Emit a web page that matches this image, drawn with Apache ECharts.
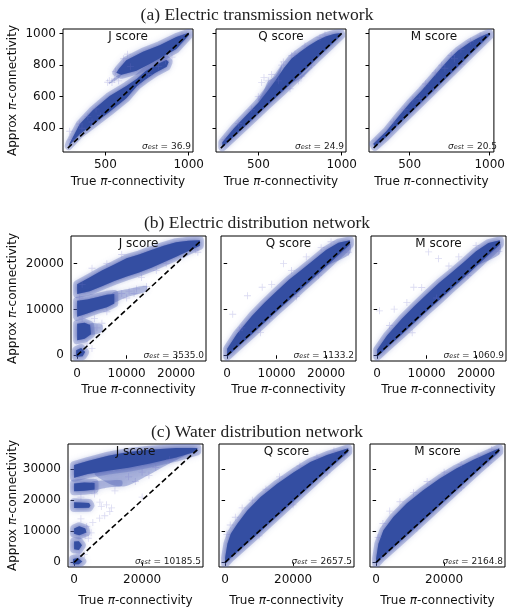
<!DOCTYPE html>
<html>
<head>
<meta charset="utf-8">
<script src="https://cdn.jsdelivr.net/npm/echarts@6/dist/echarts.min.js"></script>
<style>
html,body{margin:0;padding:0;background:#fff}
#main{width:508px;height:608px}
</style>
</head>
<body>
<div id="main"></div>
<script>
// titles / labels
var rowTitles = ['(a) Electric transmission network', '(b) Electric distribution network', '(c) Water distribution network'];
var scoreNames = ['J score', 'Q score', 'M score'];
var sigmaA = ['36.9', '24.9', '20.5'];
var sigmaB = ['3535.0', '1133.2', '1060.9'];
var sigmaC = ['10185.5', '2657.5', '2164.8'];

// tick values
var aTicksX = [500, 1000];
var aTicksY = [400, 600, 800, 1000];
var bTicksX = [0, 10000, 20000];
var bTicksY = [0, 10000, 20000];
var cTicksX = [0, 20000];
var cTicksY = [0, 10000, 20000, 30000];

// y = x reference (start, end)
var aDiag = [275, 1000];
var bDiag = [0, 24800];
var cDiag = [0, 36200];

// dense point clouds: outlines in data units [true, approx]
var aJCore = [
  [[286,306],[346,425],[426,515],[526,605],[626,668],[690,714],[740,760],[800,798],[866,834],[880,820],[868,790],[800,752],[740,708],[690,668],[626,590],[526,505],[426,425],[346,362],[280,288]],
  [[566,752],[582,776],[626,830],[726,884],[826,926],[926,977],[1000,1004],[1002,990],[926,902],[846,854],[766,806],[686,764],[596,738]]
];
var aQCore = [
  [[284,312],[354,400],[434,488],[500,562],[554,632],[600,698],[654,782],[700,842],[754,886],[800,920],[854,956],[904,981],[954,997],[994,1003],[998,990],[954,945],[904,895],[854,845],[800,790],[754,742],[700,688],[654,642],[600,590],[554,545],[500,492],[434,426],[354,348],[284,280]]
];
var aMCore = [
  [[273,302],[353,380],[434,480],[500,558],[574,638],[635,708],[700,784],[755,846],[801,890],[875,943],[936,976],[996,1003],[1002,990],[936,925],[875,865],[801,790],[735,725],[700,690],[635,625],[574,565],[500,492],[434,428],[353,345],[283,283]]
];
var bJCore = [
  [[0,15500],[2500,17000],[5000,18500],[7500,19800],[10000,21200],[12500,22000],[15000,23000],[17500,23900],[20000,24700],[22500,25000],[24800,25100],[24800,23900],[22500,22800],[20000,21500],[17500,20300],[15000,19100],[12500,18100],[10000,17200],[7500,16200],[5000,15100],[2500,14000],[0,13400]],
  [[0,11900],[2000,12200],[4000,12700],[6000,13200],[7500,13400],[7500,11300],[6000,10500],[4000,9900],[2000,9100],[0,8400]],
  [[0,6900],[1500,7100],[2600,6600],[2800,4600],[1500,3600],[0,3300]],
  [[-200,-300],[-200,1100],[800,1600],[1600,700],[1100,-200]]
];
var bQCore = [
  [[0,1400],[2000,4700],[5000,8600],[7500,11400],[10000,14000],[12500,16500],[15000,18600],[17500,20800],[20000,23000],[22500,24600],[24800,25100],[24800,24200],[22500,21900],[20000,19400],[17500,16900],[15000,14500],[12500,12000],[10000,9600],[7500,7100],[5000,4600],[2000,1700],[0,-300]]
];
var bMCore = [
  [[0,1200],[2000,4300],[5000,8000],[7500,10700],[10000,13300],[12500,15800],[15000,18000],[17500,20300],[20000,22700],[22500,24500],[24800,25100],[24800,24200],[22500,21900],[20000,19400],[17500,16900],[15000,14500],[12500,12000],[10000,9600],[7500,7100],[5000,4600],[2000,1700],[0,-300]]
];
var cJCore = [
  [[0,31300],[4000,32600],[10000,34300],[16000,35500],[22000,36200],[30000,36800],[36200,36800],[36200,35700],[30000,33700],[22000,31700],[16000,30400],[10000,29500],[4000,28400],[0,27200]],
  [[0,25400],[3000,25700],[6000,25500],[6000,23400],[3000,23000],[0,22900]],
  [[0,19300],[4400,19100],[4800,18300],[4400,17600],[0,17500]],
  [[0,9200],[0,10900],[1500,11600],[3300,10900],[3600,9600],[1500,8700]],
  [[0,4200],[0,6700],[1400,6800],[2300,5500],[1400,4000]],
  [[-300,-600],[-300,1100],[1100,1400],[2400,300],[1400,-600]]
];
var cQCore = [
  [[0,1500],[680,6000],[1660,9200],[3600,12400],[6540,16700],[10440,21000],[15320,25300],[20200,29000],[25080,32300],[29960,34500],[34840,36200],[36200,36700],[36200,35500],[30000,29600],[20000,19600],[10000,9600],[5000,4700],[1500,1300],[0,-500]]
];
var cMCore = [
  [[0,1200],[680,6000],[2150,10300],[5070,14600],[8970,18900],[13850,23200],[18730,27000],[23600,30200],[28480,32900],[33360,35300],[36200,36700],[36200,35500],[30000,29600],[20000,19600],[10000,9600],[5000,4700],[1500,1300],[0,-500]]
];

// thinner (lighter) parts of the clouds
var aJLight = [
  [[520,680],[560,724],[600,748],[590,726],[550,696]],
  [[300,330],[340,380],[330,350]]
];
var aQLight = [
  [[500,570],[534,640],[560,700],[600,728],[640,796],[620,712],[560,620]],
  [[680,680],[760,735],[820,790],[760,720]]
];
var aMLight = [];
var bJLight = [
  [[7000,13500],[10000,14400],[14000,15200],[14000,14000],[10000,12700],[7000,11500]],
  [[2500,6900],[5000,6700],[5000,5100],[2500,4600]]
];
var bQLight = [
  [[20000,19700],[24800,24300],[24800,22200],[22000,20500]]
];
var bMLight = [
  [[20000,19700],[24800,24300],[24800,22200],[22000,20500]]
];
var cJLight = [
  [[6000,28600],[12000,29600],[20000,31200],[28000,33300],[33000,34800],[26000,30600],[20000,27000],[15000,24500],[11000,25000]],
  [[5000,25800],[10000,26300],[14000,26300],[14000,24600],[10000,24100],[5000,23300]]
];
var cQLight = [];
var cMLight = [];

// sparse outlying points [true, approx]
var aJFaint = [[286,381],[345,427],[300,330],[395,474],[444,522],[470,480],[514,691],[524,701],[554,712],[540,690],[580,700],[633,869],[610,840],[861,827],[900,850],[700,680],[760,740],[420,440],[360,400],[650,790],[820,790],[560,760],[960,985],[990,990]];
var aQFaint = [[300,330],[380,430],[460,520],[534,722],[520,690],[560,700],[580,740],[640,800],[720,870],[780,920],[870,975],[900,990],[690,650],[740,700],[760,730],[820,800],[620,700],[500,600],[700,860],[650,820]];
var aMFaint = [[290,320],[400,440],[470,520],[520,580],[600,680],[660,750],[700,800],[760,860],[820,900],[880,950],[940,985],[720,780],[780,840],[650,640],[820,805],[560,590]];
var bJFaint = [[9000,13500],[10500,14000],[12000,14500],[14000,15000],[10000,12500],[11500,13500],[4000,6000],[5000,7000],[3500,8000],[1000,15500],[3000,19000],[6000,20000],[9000,22000],[24400,22500],[24000,23000],[13000,17000],[16000,18500],[18000,20000],[2000,2500],[3000,1500],[6000,9500],[1000,8000],[500,12500]];
var bQFaint = [[1120,8970],[4100,13000],[7080,14850],[11400,20000],[6750,4930],[3000,6000],[9000,15500],[13000,18500],[16000,21500],[19000,23500],[21000,24800],[24500,22500],[18500,17500],[14000,12800],[8500,8000],[2500,5500]];
var bMFaint = [[460,9700],[3440,10070],[7400,14850],[12400,21100],[18340,17420],[10400,22570],[7080,4920],[2500,6500],[6000,11500],[9000,14800],[14500,19500],[16500,21500],[20000,24000],[24600,22700],[12000,12500]];
var cJFaint = [[7570,19350],[8000,18000],[9500,18500],[11000,17500],[5000,9500],[4175,7740],[3690,11500],[5500,12800],[7500,14200],[9000,15000],[10490,16340],[2000,14000],[3000,2500],[1500,3000],[16000,27500],[20000,29000],[24000,30500],[18000,26000],[22000,28000],[12000,23000],[20000,21000],[28000,33000],[2000,21000],[6000,22000],[3200,8800]];
var cQFaint = [[500,9000],[1500,12000],[3000,14500],[5000,17500],[8000,20000],[12000,23500],[16000,27500],[22000,31000],[27000,33800],[32000,35800],[10000,8500],[20000,18500],[30000,28800],[35000,34500]];
var cMFaint = [[600,8000],[2000,12500],[4000,16500],[7000,19500],[11000,22500],[15000,26000],[20000,29000],[25000,31500],[30000,34200],[34000,36300],[12000,11000],[25000,24000],[33000,32000]];

var CORE = '#344ea2';
var HALO = 'rgba(88,104,186,0.33)';
var LIGHT = 'rgba(80,98,182,0.38)';
var FAINT = 'rgba(115,115,205,0.32)';
var PLUS = 'path://M4.4,0h1.2v10h-1.2zM0,4.4h10v1.2h-10z';

var rows = [
  { title: rowTitles[0], titleY: 15, top: 29, height: 123, lefts: [63, 216, 369], width: 130,
    xr: [246, 1026], yr: [250, 1028], xt: aTicksX, yt: aTicksY, diag: aDiag,
    core: [aJCore, aQCore, aMCore], light: [aJLight, aQLight, aMLight], faint: [aJFaint, aQFaint, aMFaint],
    sig: sigmaA, xGap: 24, yGap: 44 },
  { title: rowTitles[1], titleY: 223, top: 236, height: 125, lefts: [71, 221, 371], width: 135,
    xr: [-1250, 26050], yr: [-1250, 26050], xt: bTicksX, yt: bTicksY, diag: bDiag,
    core: [bJCore, bQCore, bMCore], light: [bJLight, bQLight, bMLight], faint: [bJFaint, bQFaint, bMFaint],
    sig: sigmaB, xGap: 23, yGap: 52 },
  { title: rowTitles[2], titleY: 432, top: 444, height: 123, lefts: [68, 219, 370], width: 135,
    xr: [-1800, 37900], yr: [-1500, 38070], xt: cTicksX, yt: cTicksY, diag: cDiag,
    core: [cJCore, cQCore, cMCore], light: [cJLight, cQLight, cMLight], faint: [cJFaint, cQFaint, cMFaint],
    sig: sigmaC, xGap: 28, yGap: 49 }
];

function cloudRender(polys, dense) {
  return function (params, api) {
    var pts = polys[params.dataIndex].map(function (p) { return api.coord(p); });
    if (!dense) {
      return { type: 'polygon', shape: { points: pts, smooth: 0.3 },
        style: { fill: LIGHT, shadowBlur: 6, shadowColor: 'rgba(80,98,182,0.5)' } };
    }
    return { type: 'group', children: [
      { type: 'polygon', shape: { points: pts },
        style: { fill: HALO, stroke: HALO, lineWidth: 8, lineJoin: 'round', shadowBlur: 6, shadowColor: 'rgba(88,104,186,0.5)' } },
      { type: 'polygon', shape: { points: pts },
        style: { fill: CORE, shadowBlur: 5, shadowColor: 'rgba(60,80,170,0.8)' } }
    ] };
  };
}

var nameRich = {
  t: { fontFamily: 'DejaVu Sans', fontSize: 12, color: '#111' },
  p: { fontFamily: 'DejaVu Sans', fontStyle: 'italic', fontSize: 12, color: '#111' }
};
function plain(v) { return String(v); }

var grids = [], xAxes = [], yAxes = [], series = [], graphics = [];
var gi = 0;
rows.forEach(function (row) {
  graphics.push({ type: 'text', x: 257, y: row.titleY,
    style: { text: row.title, font: '17.5px "Liberation Serif"', fill: '#222', textAlign: 'center', textVerticalAlign: 'middle' } });
  for (var k = 0; k < 3; k++) {
    var left = row.lefts[k];
    grids.push({ left: left, top: row.top, width: row.width, height: row.height,
      show: true, borderColor: '#000', borderWidth: 1, containLabel: false });
    xAxes.push({ gridIndex: gi, type: 'value', min: row.xr[0], max: row.xr[1],
      axisLine: { show: false }, splitLine: { show: false },
      axisTick: { show: true, length: 3.5, lineStyle: { color: '#000' }, customValues: row.xt },
      axisLabel: { show: true, customValues: row.xt, formatter: plain, margin: 7, fontFamily: 'DejaVu Sans', fontSize: 12, color: '#111' },
      name: '{t|True }{p|π}{t|-connectivity}', nameLocation: 'middle', nameGap: row.xGap,
      nameTextStyle: { rich: nameRich } });
    yAxes.push({ gridIndex: gi, type: 'value', min: row.yr[0], max: row.yr[1],
      axisLine: { show: false }, splitLine: { show: false },
      axisTick: { show: true, length: 3.5, lineStyle: { color: '#000' }, customValues: row.yt },
      axisLabel: { show: k === 0, customValues: row.yt, formatter: plain, margin: 7, fontFamily: 'DejaVu Sans', fontSize: 12, color: '#111' },
      name: k === 0 ? '{t|Approx }{p|π}{t|-connectivity}' : '', nameLocation: 'middle', nameGap: row.yGap,
      nameTextStyle: { rich: nameRich } });
    series.push({ type: 'scatter', xAxisIndex: gi, yAxisIndex: gi, data: row.faint[k],
      symbol: PLUS, symbolSize: 7, itemStyle: { color: FAINT }, silent: true });
    series.push({ type: 'custom', xAxisIndex: gi, yAxisIndex: gi, clip: true,
      data: row.light[k].map(function (p) { return p[0]; }), encode: { x: 0, y: 1 },
      renderItem: cloudRender(row.light[k], false), silent: true });
    series.push({ type: 'custom', xAxisIndex: gi, yAxisIndex: gi, clip: true,
      data: row.core[k].map(function (p) { return p[0]; }), encode: { x: 0, y: 1 },
      renderItem: cloudRender(row.core[k], true), silent: true });
    series.push({ type: 'line', xAxisIndex: gi, yAxisIndex: gi, symbol: 'none', silent: true,
      data: [[row.diag[0], row.diag[0]], [row.diag[1], row.diag[1]]],
      lineStyle: { color: '#000', width: 1.6, type: [5.5, 3] }, z: 5 });
    graphics.push({ type: 'text', x: left + row.width / 2, y: row.top + 8,
      style: { text: scoreNames[k], font: '12px "DejaVu Sans"', fill: '#111', textAlign: 'center', textVerticalAlign: 'middle' }, z: 10 });
    graphics.push({ type: 'text', x: left + row.width - 2, y: row.top + row.height - 1,
      style: { text: '{s|σ}{e|est}{n| = ' + row.sig[k] + '}', textAlign: 'right', textVerticalAlign: 'bottom',
        rich: {
          s: { fontFamily: 'DejaVu Sans', fontStyle: 'italic', fontSize: 9, fill: '#222', color: '#222' },
          e: { fontFamily: 'DejaVu Sans', fontStyle: 'italic', fontSize: 6.5, fill: '#222', color: '#222', verticalAlign: 'bottom', lineHeight: 8 },
          n: { fontFamily: 'DejaVu Sans', fontSize: 9, fill: '#222', color: '#222' }
        } }, z: 10 });
    gi++;
  }
});

var chart = echarts.init(document.getElementById('main'), null, { renderer: 'canvas' });
chart.setOption({
  animation: false,
  backgroundColor: '#fff',
  grid: grids,
  xAxis: xAxes,
  yAxis: yAxes,
  series: series,
  graphic: graphics
});
</script>
</body>
</html>
